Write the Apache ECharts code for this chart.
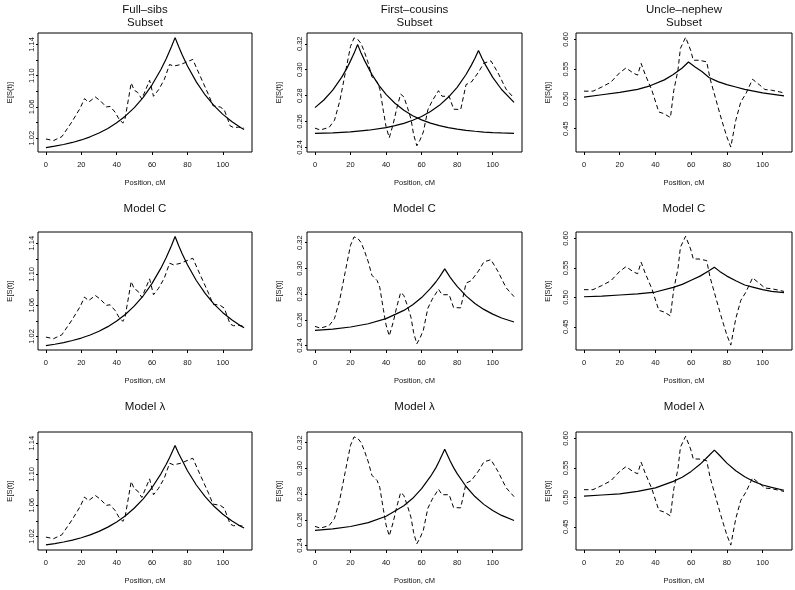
<!DOCTYPE html>
<html><head><meta charset="utf-8">
<script src="https://cdn.jsdelivr.net/npm/echarts@6/dist/echarts.min.js"></script>
<style>html,body{margin:0;padding:0;background:#fff}#c{width:795px;height:590px}</style>
</head><body><div id="c"></div>
<script>
// ---- tick values ----
const xTicks = [0, 20, 40, 60, 80, 100];
const fsTicks = [1.02, 1.04, 1.06, 1.08, 1.10, 1.12, 1.14];
const fsLabels = [1.02, 1.06, 1.10, 1.14];
const fcTicks = [0.24, 0.26, 0.28, 0.30, 0.32];
const unTicks = [0.45, 0.50, 0.55, 0.60];

// ---- observed (dashed) curves, [position cM, E[S(t)]] ----
const fullSibsObs = [[0,1.019],[4.3,1.017],[9,1.022],[14.7,1.041],[19.4,1.0586],[21.8,1.0706],[24.1,1.066],[27.9,1.0727],[30.7,1.068],[34.1,1.0599],[36.3,1.0607],[39.2,1.053],[41.2,1.0449],[43.5,1.0393],[44.8,1.0457],[48.2,1.0907],[49.9,1.0813],[51.8,1.0787],[54.2,1.0701],[58.6,1.0941],[60.8,1.0736],[63.7,1.082],[66.9,1.095],[69.9,1.1143],[72.1,1.1122],[75.9,1.114],[83,1.1207],[87.2,1.0993],[91.9,1.0757],[94.4,1.0616],[98.5,1.0599],[100.8,1.0564],[104.1,1.0359],[106,1.0337],[108.9,1.0341],[112,1.0329]];
const firstCousinsObs = [[0,0.2549],[3,0.2535],[8,0.2555],[11,0.261],[14,0.276],[17,0.297],[20,0.318],[22,0.3245],[24,0.3235],[26,0.320],[28,0.313],[30,0.305],[32,0.2947],[35,0.2905],[36.5,0.285],[38.5,0.268],[40,0.256],[41.8,0.2475],[44,0.258],[46,0.270],[48.2,0.2812],[50,0.279],[52,0.271],[54,0.262],[55.5,0.250],[57.3,0.2413],[59,0.2455],[61,0.252],[63.5,0.269],[66,0.276],[69.5,0.2838],[71.5,0.2795],[75.5,0.2795],[78,0.2695],[82,0.2693],[85,0.2885],[88,0.2905],[92,0.298],[95,0.305],[99,0.3068],[103,0.2975],[107.5,0.285],[112,0.278]];
const uncleNephewObs = [[0,0.513],[5,0.513],[10,0.520],[15,0.528],[20,0.544],[23.5,0.552],[27.8,0.543],[30,0.540],[32,0.5596],[34.4,0.540],[38,0.5146],[41.9,0.478],[44.7,0.4753],[48.4,0.4686],[50.3,0.5146],[52.6,0.548],[54,0.585],[56.9,0.6035],[59.7,0.582],[61.2,0.565],[64.4,0.565],[68.7,0.5623],[70.6,0.534],[76.6,0.4696],[80,0.436],[82.2,0.419],[85,0.464],[87.8,0.4949],[90.7,0.509],[94.4,0.533],[98.5,0.523],[101.3,0.5158],[105,0.5146],[109.7,0.5117],[112,0.510]];

// ---- expected (solid) curves ----
const fullSibsSubset = [[0,1.0080],[5,1.0098],[10,1.0120],[15,1.0146],[20,1.0178],[25,1.0218],[30,1.0266],[35,1.0325],[40,1.0397],[45,1.0485],[50,1.0592],[55,1.0723],[60,1.0883],[65,1.1079],[68,1.1217],[71,1.1372],[73,1.1486],[75,1.1372],[77,1.1266],[80,1.1123],[85,1.0920],[90,1.0753],[95,1.0616],[100,1.0505],[105,1.0413],[110,1.0338],[112,1.0312]];
const fullSibsModelC = [[0,1.0080],[5,1.0098],[10,1.0120],[15,1.0146],[20,1.0178],[25,1.0218],[30,1.0266],[35,1.0325],[40,1.0397],[45,1.0485],[50,1.0592],[55,1.0723],[60,1.0883],[65,1.1079],[68,1.1217],[71,1.1372],[73,1.1486],[75,1.1372],[77,1.1266],[80,1.1123],[85,1.0920],[90,1.0753],[95,1.0616],[100,1.0505],[105,1.0413],[110,1.0338],[112,1.0312]];
const fullSibsModelL = [[0,1.0089],[5,1.0106],[10,1.0127],[15,1.0152],[20,1.0182],[25,1.0219],[30,1.0264],[35,1.0319],[40,1.0386],[45,1.0466],[50,1.0565],[55,1.0684],[60,1.0829],[65,1.1006],[68,1.1130],[70,1.1220],[73,1.1370],[75,1.1268],[77,1.1180],[80,1.1045],[85,1.0862],[90,1.0711],[95,1.0587],[100,1.0485],[105,1.0400],[110,1.0331],[112,1.0307]];

const firstCousinsSubsetA = [[0,0.2707],[5,0.2766],[10,0.2843],[15,0.2941],[18,0.3012],[20,0.3068],[22,0.3126],[24,0.3195],[26,0.3126],[28,0.3068],[32,0.2964],[36,0.2879],[40,0.2810],[45,0.2741],[50,0.2687],[55,0.2645],[60,0.2613],[65,0.2588],[70,0.2568],[75,0.2553],[80,0.2541],[85,0.2532],[90,0.2525],[95,0.2519],[100,0.2515],[105,0.2512],[112,0.2508]];
const firstCousinsSubsetB = [[0,0.2508],[10,0.2513],[20,0.2520],[30,0.2533],[40,0.2553],[45,0.2568],[50,0.2586],[55,0.2610],[60,0.2639],[65,0.2677],[70,0.2725],[75,0.2787],[80,0.2864],[85,0.2963],[88,0.3035],[90,0.3088],[92,0.3148],[94,0.3088],[96,0.3035],[100,0.2941],[105,0.2847],[112,0.2748]];
const firstCousinsModelC = [[0,0.2517],[10,0.2528],[20,0.2544],[30,0.2569],[40,0.2609],[50,0.2673],[55,0.2717],[60,0.2773],[65,0.2844],[68,0.2894],[70,0.2932],[73,0.2996],[76,0.2932],[78,0.2895],[80,0.2860],[85,0.2786],[90,0.2727],[95,0.2681],[100,0.2644],[105,0.2614],[112,0.2583]];
const firstCousinsModelL = [[0,0.2518],[10,0.2529],[20,0.2548],[30,0.2578],[40,0.2628],[50,0.2709],[55,0.2767],[60,0.2842],[65,0.2937],[68,0.3004],[70,0.3059],[73,0.3148],[76,0.3059],[78,0.3006],[80,0.2959],[85,0.2859],[90,0.2781],[95,0.2720],[100,0.2672],[105,0.2634],[112,0.2595]];

const uncleNephewSubset = [[0,0.503],[10,0.507],[20,0.511],[30,0.516],[37,0.522],[45,0.532],[50,0.541],[55,0.552],[58.5,0.562],[62,0.554],[66,0.546],[70,0.536],[75,0.529],[80,0.524],[85,0.520],[90,0.516],[95,0.513],[100,0.510],[105,0.508],[112,0.505]];
const uncleNephewModelC = [[0,0.501],[10,0.502],[20,0.504],[30,0.506],[40,0.509],[50,0.517],[55,0.522],[60,0.529],[65,0.536],[70,0.545],[73,0.551],[76,0.544],[80,0.536],[85,0.528],[90,0.521],[95,0.517],[100,0.513],[105,0.510],[112,0.508]];
const uncleNephewModelL = [[0,0.502],[10,0.504],[20,0.506],[30,0.510],[40,0.516],[50,0.527],[55,0.534],[60,0.544],[65,0.556],[70,0.571],[73,0.580],[76,0.571],[80,0.558],[85,0.545],[90,0.535],[95,0.527],[100,0.521],[105,0.517],[112,0.512]];

// ---- titles ----
const colNames = ['Full\u2013sibs', 'First\u2013cousins', 'Uncle\u2013nephew'];
const rowNames = ['Subset', 'Model C', 'Model \u03bb'];

// ---- layout (px) ----
const colLeft = [38, 307, 576];
const colWidth = [214, 215, 216];
const rowTop = [33, 232, 432];
const rowHeight = [119, 118, 118];
const yLabelMargin = [2.5, 3, 6];

const colY = [
  {min: 1.0024, max: 1.1545, ticks: fsTicks, labels: fsLabels},
  {min: 0.2365, max: 0.3283, ticks: fcTicks, labels: fcTicks},
  {min: 0.4107, max: 0.6108, ticks: unTicks, labels: unTicks}
];
const colObs = [fullSibsObs, firstCousinsObs, uncleNephewObs];
const solids = [
  [[fullSibsSubset], [firstCousinsSubsetA, firstCousinsSubsetB], [uncleNephewSubset]],
  [[fullSibsModelC], [firstCousinsModelC], [uncleNephewModelC]],
  [[fullSibsModelL], [firstCousinsModelL], [uncleNephewModelL]]
];

const FONT = '"Liberation Sans", Arial, Helvetica, sans-serif';
const INK = '#111';
const grids = [], xAxes = [], yAxes = [], series = [], graphics = [];
let idx = 0;
for (let r = 0; r < 3; r++) {
  for (let c = 0; c < 3; c++) {
    grids.push({left: colLeft[c], top: rowTop[r], width: colWidth[c], height: rowHeight[r],
      show: true, borderColor: '#000', borderWidth: 1, backgroundColor: 'transparent'});
    xAxes.push({type: 'value', gridIndex: idx, min: -4.48, max: 116.48, position: 'bottom',
      axisLine: {show: false, onZero: false}, splitLine: {show: false},
      axisTick: {show: true, inside: false, length: 3, customValues: xTicks, lineStyle: {color: '#000'}},
      axisLabel: {show: true, customValues: xTicks, margin: 9, fontSize: 7.5, color: INK, fontFamily: FONT},
      name: 'Position, cM', nameLocation: 'middle', nameGap: 27,
      nameTextStyle: {fontSize: 7.5, color: INK, fontFamily: FONT}});
    const yc = colY[c];
    yAxes.push({type: 'value', gridIndex: idx, min: yc.min, max: yc.max, position: 'left',
      axisLine: {show: false, onZero: false}, splitLine: {show: false},
      axisTick: {show: true, inside: false, length: 2, customValues: yc.ticks, lineStyle: {color: '#000'}},
      axisLabel: {show: true, customValues: yc.labels, rotate: 90, margin: yLabelMargin[c], fontSize: 7.5, color: INK, fontFamily: FONT,
        formatter: v => Number(v).toFixed(2)},
      name: 'E[S(t)]', nameLocation: 'middle', nameGap: 24,
      nameTextStyle: {fontSize: 7.5, color: INK, fontFamily: FONT}});
    series.push({type: 'line', xAxisIndex: idx, yAxisIndex: idx, data: colObs[c], showSymbol: false,
      lineStyle: {color: '#000', width: 1, type: [4.5, 3]}, animation: false, silent: true});
    solids[r][c].forEach(d => series.push({type: 'line', xAxisIndex: idx, yAxisIndex: idx, data: d, showSymbol: false,
      lineStyle: {color: '#000', width: 1.2, type: 'solid'}, animation: false, silent: true}));
    // titles
    const cx = colLeft[c] + colWidth[c] / 2;
    if (r === 0) {
      graphics.push({type: 'text', x: cx, y: 10, style: {text: colNames[c], fontSize: 11.5, fontFamily: FONT, fill: INK, textAlign: 'center', textVerticalAlign: 'middle'}});
      graphics.push({type: 'text', x: cx, y: 23, style: {text: rowNames[r], fontSize: 11.5, fontFamily: FONT, fill: INK, textAlign: 'center', textVerticalAlign: 'middle'}});
    } else {
      graphics.push({type: 'text', x: cx, y: r === 1 ? 209 : 407, style: {text: rowNames[r], fontSize: 11.5, fontFamily: FONT, fill: INK, textAlign: 'center', textVerticalAlign: 'middle'}});
    }
    idx++;
  }
}
const chart = echarts.init(document.getElementById('c'), null, {renderer: 'canvas'});
chart.setOption({animation: false, backgroundColor: '#fff', grid: grids, xAxis: xAxes, yAxis: yAxes, series: series, graphic: graphics});
</script></body></html>
